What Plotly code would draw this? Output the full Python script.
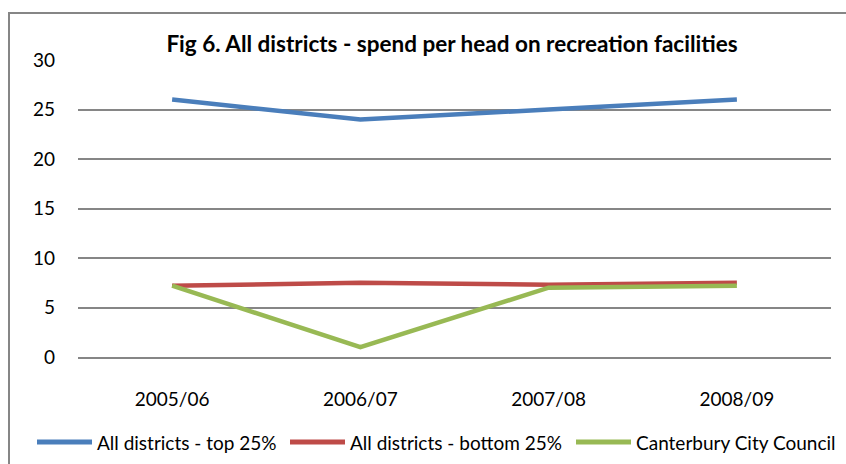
import plotly.graph_objects as go

# Spend per head on recreation facilities (£)
years = ["2005/06", "2006/07", "2007/08", "2008/09"]
top_25 = [26.0, 24.0, 25.0, 26.0]
bottom_25 = [7.2, 7.5, 7.3, 7.5]
canterbury = [7.2, 1.0, 7.0, 7.2]

series_names = ["All districts - top 25%", "All districts - bottom 25%", "Canterbury City Council"]
series_colors = ["#4A7EBB", "#BE4B48", "#98B954"]
y_ticks = [0, 5, 10, 15, 20, 25, 30]

FONT = "Lato, 'Open Sans', sans-serif"

fig = go.Figure()
for name, vals, col in zip(series_names, [top_25, bottom_25, canterbury], series_colors):
    fig.add_trace(go.Scatter(
        x=years, y=vals, name=name, mode="lines",
        line=dict(color=col, width=4.5), showlegend=False,
    ))

W, H = 846, 464
L, R, T, B = 78, 15, 60, 107
pw, ph = W - L - R, H - T - B

def px(x):
    return (x - L) / pw

def py(y):
    return (H - B - y) / ph

# outer chart frame
fig.add_shape(type="rect", xref="paper", yref="paper",
              x0=px(9), x1=px(W + 10), y0=py(H + 10), y1=py(13),
              line=dict(color="#868686", width=2), fillcolor="rgba(0,0,0,0)",
              layer="below")

# legend row below the plot: swatch line + label per series
legend_y = 442
legend_swatch_x = [37, 290, 576]
for name, col, x0 in zip(series_names, series_colors, legend_swatch_x):
    fig.add_shape(type="line", xref="paper", yref="paper",
                  x0=px(x0), x1=px(x0 + 55), y0=py(legend_y), y1=py(legend_y),
                  line=dict(color=col, width=5))
    fig.add_annotation(text=name, xref="paper", yref="paper",
                       x=px(x0 + 58), y=py(legend_y), xanchor="left", yanchor="middle",
                       showarrow=False, font=dict(family=FONT, size=19, color="#000000"))

fig.update_layout(
    width=W, height=H,
    margin=dict(l=L, r=R, t=T, b=B),
    paper_bgcolor="white", plot_bgcolor="white",
    font=dict(family=FONT, size=19, color="#000000"),
    title=dict(text="<b>Fig 6. All districts - spend per head on recreation facilities</b>",
               x=px(452), xref="paper", xanchor="center",
               y=1 - 44 / H, yanchor="middle",
               font=dict(family=FONT, size=22.5, color="#000000")),
    xaxis=dict(type="category", range=[-0.5, 3.5], showgrid=False,
               showline=True, linecolor="#868686", linewidth=1.5,
               ticks="", ticklabelstandoff=24, tickfont=dict(size=19)),
    yaxis=dict(range=[0, 30], tickvals=y_ticks, showgrid=True,
               gridcolor="#868686", gridwidth=1.5, zeroline=False,
               showline=False, ticks="", ticklabelstandoff=22,
               tickfont=dict(size=19)),
)

fig.write_html("out.html")
